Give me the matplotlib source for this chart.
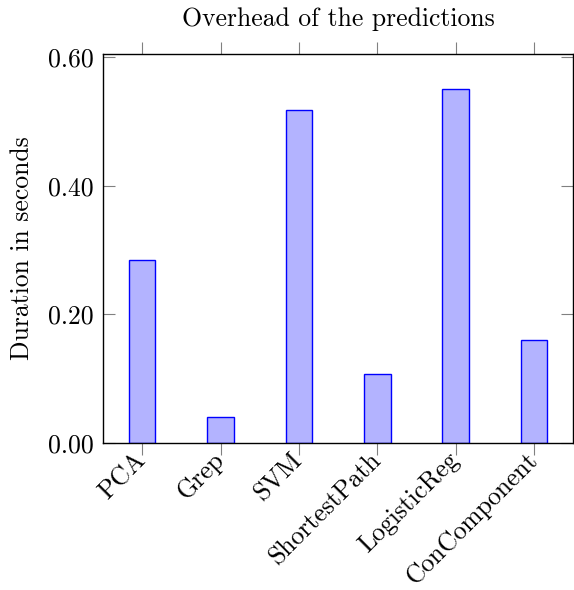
import numpy as np
import matplotlib
matplotlib.use('Agg')
import matplotlib.pyplot as plt

# benchmark names and overhead in seconds
benchmarks = ['PCA', 'Grep', 'SVM', 'ShortestPath', 'LogisticReg', 'ConComponent']
durations = [0.285, 0.040, 0.518, 0.107, 0.550, 0.160]

plt.rcParams['font.family'] = ['cmr10', 'DejaVu Serif']
plt.rcParams['mathtext.fontset'] = 'cm'
plt.rcParams['axes.formatter.use_mathtext'] = True

FS = 18.5

fig = plt.figure(figsize=(5.74, 5.90), dpi=100)
ax = fig.add_axes([0.1794, 0.2492, 0.8194, 0.6593])

x = np.arange(len(benchmarks))
ax.bar(x, durations, width=0.34, color='#b3b3ff', edgecolor='#0000ff', linewidth=1.0, zorder=2)

ax.set_xlim(-0.5, len(benchmarks) - 0.5)
ax.set_ylim(0, 0.605)
ax.set_yticks([0.0, 0.2, 0.4, 0.6])
ax.set_yticklabels(['0.00', '0.20', '0.40', '0.60'], fontsize=FS)
ax.set_xticks(x)
ax.set_xticklabels(benchmarks, fontsize=FS, rotation=45, ha='right', va='center',
                   rotation_mode='anchor')

ax.tick_params(axis='x', direction='out', length=8.5, width=0.8, color='#808080',
               top=True, bottom=True, pad=1)
ax.tick_params(axis='y', direction='in', length=8.5, width=0.8, color='#808080',
               left=True, right=True, pad=7)
for sp in ax.spines.values():
    sp.set_linewidth(1.0)
    sp.set_color('black')

ax.set_ylabel('Duration in seconds', fontsize=FS, labelpad=10)
ax.set_title('Overhead of the predictions', fontsize=FS, pad=20)

fig.savefig('out.png', dpi=100)
